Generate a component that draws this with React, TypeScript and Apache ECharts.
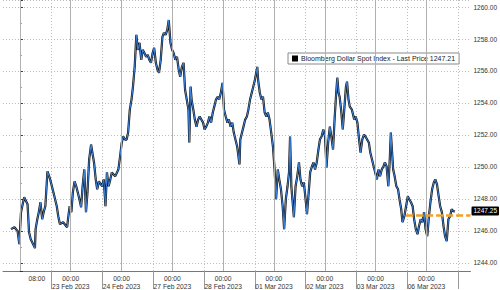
import React, { useEffect, useRef } from 'react';
import * as echarts from 'echarts';

// x = hours since 22 Feb 2023 00:00, counted over trading days only (weekend removed)
const feb22: [number, number][] = [
  [-4.2, 1246.11], [-2.6, 1246.23], [-1.1, 1245.98], [-0.3, 1245.17], [0.5, 1247.17], [2.0, 1248.10],
  [3.6, 1247.66], [4.3, 1245.92], [5.1, 1245.48], [7.1, 1244.92], [7.4, 1246.11], [8.2, 1246.73],
  [8.9, 1247.17], [9.7, 1247.79], [10.5, 1246.73], [11.2, 1247.17], [12.0, 1247.54], [13.0, 1249.72],
  [14.3, 1249.22], [15.8, 1248.41], [17.4, 1247.54], [18.1, 1246.92], [18.9, 1246.42], [20.4, 1246.54],
  [22.3, 1246.23], [22.7, 1246.73], [23.5, 1247.54],
];
const feb23: [number, number][] = [
  [24.3, 1247.17], [25.0, 1248.41], [25.8, 1249.10], [26.6, 1248.79], [27.3, 1248.41], [28.1, 1247.98],
  [28.9, 1247.48], [29.6, 1248.79], [30.4, 1249.84], [31.2, 1247.17], [31.9, 1248.41], [32.7, 1250.47],
  [33.6, 1251.40], [34.2, 1250.90], [35.0, 1250.28], [35.8, 1249.22], [36.5, 1248.60], [37.3, 1249.10],
  [38.8, 1248.79], [39.6, 1249.22], [40.4, 1247.54], [41.1, 1249.66], [41.9, 1248.79], [42.7, 1249.22],
  [43.4, 1249.66], [45.0, 1249.41], [46.5, 1249.84], [47.3, 1250.65],
];
const feb24: [number, number][] = [
  [48.1, 1251.53], [48.8, 1251.90], [49.6, 1251.71], [50.4, 1251.71], [51.1, 1252.15], [51.9, 1253.58],
  [52.7, 1254.21], [53.4, 1255.02], [54.2, 1256.26], [55.0, 1258.26], [55.7, 1257.32], [56.5, 1257.76],
  [57.3, 1256.70], [58.0, 1257.32], [58.8, 1257.13], [59.6, 1256.88], [60.4, 1257.01], [61.1, 1256.70],
  [61.9, 1256.51], [62.7, 1257.13], [63.4, 1257.45], [64.2, 1256.51], [65.0, 1256.07], [65.7, 1255.89],
  [66.5, 1256.70], [67.3, 1258.13], [68.0, 1258.38], [68.8, 1258.26], [69.6, 1258.57], [70.3, 1259.19],
  [71.1, 1257.76], [71.9, 1257.32],
];
const feb27: [number, number][] = [
  [72.6, 1257.13], [73.4, 1256.70], [74.2, 1256.88], [75.0, 1256.07], [75.7, 1255.64], [76.5, 1256.26],
  [77.3, 1256.51], [78.0, 1254.83], [78.8, 1254.21], [79.6, 1253.58], [80.0, 1251.53], [80.6, 1255.02],
  [81.1, 1254.21], [81.9, 1253.58], [82.6, 1252.96], [83.4, 1252.52], [84.2, 1252.96], [84.9, 1253.15],
  [86.5, 1252.77], [87.2, 1252.34], [88.0, 1252.52], [88.8, 1252.77], [89.5, 1253.15], [90.3, 1252.77],
  [91.1, 1253.40], [91.8, 1253.77], [92.6, 1254.21], [93.4, 1254.39], [94.1, 1254.21], [94.9, 1254.64],
  [95.7, 1255.26],
];
const feb28: [number, number][] = [
  [96.4, 1253.58], [97.2, 1253.15], [98.0, 1252.77], [98.7, 1252.96], [99.5, 1252.52], [100.3, 1252.77],
  [101.0, 1252.15], [101.8, 1251.71], [102.6, 1251.28], [103.7, 1250.16], [104.1, 1251.71], [104.9, 1252.15],
  [105.6, 1252.52], [106.4, 1252.96], [107.2, 1253.15], [107.9, 1253.58], [108.7, 1254.21], [109.5, 1254.64],
  [110.2, 1255.02], [111.0, 1255.45], [112.1, 1256.26], [112.5, 1255.45], [113.3, 1254.64], [114.1, 1254.21],
  [114.8, 1254.39], [115.6, 1253.40], [116.4, 1253.15], [117.1, 1253.40], [117.9, 1252.96], [118.7, 1252.15],
  [119.5, 1251.28],
];
const mar01: [number, number][] = [
  [120.2, 1250.03], [121.0, 1247.98], [121.8, 1249.84], [122.5, 1249.22], [123.3, 1248.60], [124.1, 1247.54],
  [124.8, 1246.11], [125.6, 1247.98], [126.4, 1248.79], [127.1, 1249.66], [127.6, 1251.90], [128.2, 1248.79],
  [129.4, 1246.85], [130.2, 1248.79], [131.0, 1249.41], [131.8, 1250.28], [132.5, 1249.22], [133.3, 1248.79],
  [134.1, 1249.03], [134.8, 1248.16], [135.6, 1247.04], [136.4, 1248.41], [137.1, 1249.66], [137.9, 1250.03],
  [138.7, 1250.28], [139.4, 1249.84], [140.2, 1250.28], [141.0, 1251.09], [141.7, 1251.71], [142.5, 1251.90],
  [143.3, 1252.34],
];
const mar02: [number, number][] = [
  [144.1, 1251.90], [144.8, 1249.97], [145.6, 1251.53], [146.4, 1252.52], [147.1, 1251.90], [147.9, 1251.09],
  [148.7, 1253.15], [149.4, 1254.64], [149.9, 1255.58], [150.5, 1254.64], [151.0, 1254.39], [151.7, 1253.58],
  [152.5, 1252.34], [153.3, 1253.77], [154.0, 1255.02], [154.5, 1255.33], [155.2, 1254.21], [155.8, 1253.77],
  [156.8, 1253.58], [157.9, 1252.96], [158.6, 1253.15], [159.4, 1252.77], [160.2, 1251.71], [160.9, 1250.90],
  [161.7, 1251.71], [162.5, 1252.02], [163.2, 1251.90], [164.0, 1251.71], [164.8, 1251.53], [165.5, 1250.90],
  [166.3, 1250.47], [167.1, 1250.03], [167.8, 1249.66],
];
const mar03: [number, number][] = [
  [168.6, 1249.22], [169.4, 1249.84], [170.1, 1249.41], [170.9, 1249.84], [171.7, 1250.03], [172.4, 1250.28],
  [173.2, 1250.03], [174.0, 1248.79], [174.7, 1250.47], [175.2, 1252.15], [175.8, 1250.90], [176.3, 1249.84],
  [177.0, 1249.41], [177.8, 1248.79], [178.6, 1248.60], [179.3, 1247.98], [180.1, 1247.35], [180.7, 1246.54],
  [181.6, 1246.92], [182.4, 1247.54], [183.2, 1248.16], [183.9, 1247.98], [184.7, 1247.79], [185.5, 1247.54],
  [186.2, 1246.73], [187.0, 1246.11], [187.8, 1245.79], [188.5, 1246.29], [189.3, 1246.73], [190.1, 1246.54],
  [190.9, 1247.17], [191.6, 1246.11],
];
const mar06: [number, number][] = [
  [192.4, 1245.67], [193.2, 1246.92], [193.9, 1247.79], [194.7, 1248.60], [195.5, 1249.03], [196.2, 1249.22],
  [197.0, 1248.91], [197.8, 1248.16], [198.5, 1247.54], [199.3, 1247.17], [200.1, 1246.29], [200.8, 1245.67],
  [201.6, 1245.36], [202.4, 1246.73], [203.2, 1246.92], [203.9, 1247.35], [204.7, 1247.23], [205.5, 1247.21],
];

const dayLabels = [
  '22 Feb 2023', '23 Feb 2023', '24 Feb 2023', '27 Feb 2023', '28 Feb 2023',
  '01 Mar 2023', '02 Mar 2023', '03 Mar 2023', '06 Mar 2023',
];
const firstTimeLabel = '08:00';
const seriesName = 'Bloomberg Dollar Spot Index';
const lastPrice = 1247.21;
const lastTag = 1247.25;
const trendLevel = 1247.0;
const trendStartHour = 182.4;
const separatorHour = 15;

const xMin = -8;
const xMax = 212.83;
const yMin = 1243.49;
const yMax = 1260.44;

const FONT = '"Liberation Sans", Arial, sans-serif';

export default function App() {
  const ref = useRef<HTMLDivElement>(null);
  useEffect(() => {
    if (!ref.current) return;
    const chart = echarts.init(ref.current, undefined, { renderer: 'svg' });
    const data = [...feb22, ...feb23, ...feb24, ...feb27, ...feb28, ...mar01, ...mar02, ...mar03, ...mar06];
    const dayStarts = dayLabels.map((_, i) => i * 24);
    const separators = dayLabels.map((_, i) => i * 24 + separatorHour);

    chart.setOption({
      animation: false,
      backgroundColor: '#ffffff',
      textStyle: { fontFamily: FONT },
      grid: { left: -8.37, right: 29, top: 0, bottom: 18, containLabel: false },
      legend: {
        data: [seriesName],
        left: 288,
        top: 53,
        padding: [2, 4, 2, 4],
        itemWidth: 6,
        itemHeight: 6,
        itemGap: 4,
        icon: 'rect',
        borderColor: '#8a8a8a',
        borderWidth: 1,
        backgroundColor: '#ffffff',
        textStyle: { fontSize: 7, color: '#222', fontFamily: FONT, padding: [0, 0, 0, -2] },
        formatter: (name: string) => `${name} - Last Price ${lastPrice.toFixed(2)}`,
      },
      xAxis: {
        type: 'value',
        min: xMin,
        max: xMax,
        interval: 8,
        axisLine: { show: true, lineStyle: { color: '#777', width: 1 } },
        axisTick: {
          show: true,
          customValues: separators,
          length: 18,
          lineStyle: { color: '#999' },
        },
        axisLabel: {
          show: true,
          fontSize: 6.7,
          color: '#333',
          lineHeight: 8,
          margin: 3,
          fontFamily: FONT,
          formatter: (v: number) => {
            if (Math.abs(v - 8) < 1e-6) return firstTimeLabel;
            if (v > 0 && Math.abs(v % 24) < 1e-6) {
              const lbl = dayLabels[Math.round(v / 24)];
              return lbl ? `00:00\n${lbl}` : '';
            }
            return '';
          },
        },
        splitLine: { show: true, lineStyle: { color: '#bdbdbd', type: [1, 2], width: 1 } },
      },
      yAxis: {
        type: 'value',
        position: 'right',
        min: yMin,
        max: yMax,
        splitNumber: 8,
        axisLine: { show: true, lineStyle: { color: '#777', width: 1 } },
        axisTick: { show: true, length: 3, lineStyle: { color: '#333' } },
        minorTick: { show: true, splitNumber: 2, length: 2, lineStyle: { color: '#999' } },
        axisLabel: {
          show: true,
          fontSize: 6.5,
          color: '#333',
          margin: 3,
          fontFamily: FONT,
          showMinLabel: false,
          showMaxLabel: false,
          formatter: (v: number) => v.toFixed(2),
        },
        splitLine: { show: true, lineStyle: { color: '#bdbdbd', type: [1, 2], width: 1 } },
      },
      series: [
        {
          type: 'line',
          name: 'daylines',
          data: [],
          z: 1,
          silent: true,
          markLine: {
            silent: true,
            symbol: 'none',
            label: { show: false },
            lineStyle: { color: '#b0b0b0', type: 'solid', width: 1 },
            data: dayStarts.map((h) => ({ xAxis: h })),
          },
        },
        {
          type: 'line',
          name: seriesName,
          data,
          showSymbol: false,
          symbol: 'none',
          z: 3,
          itemStyle: { color: '#000' },
          lineStyle: { color: '#111', width: 2.2 },
          markLine: {
            silent: true,
            symbol: 'none',
            data: [
              [
                {
                  coord: [trendStartHour, trendLevel],
                  lineStyle: { color: '#f0a028', width: 2.5, type: [7, 3] },
                  label: { show: false },
                },
                { coord: [xMax, trendLevel] },
              ],
            ],
          },
        },
        {
          type: 'line',
          name: 'overlay',
          data,
          showSymbol: false,
          symbol: 'none',
          z: 4,
          silent: true,
          lineStyle: { color: '#3f86e0', width: 1 },
          markLine: {
            silent: true,
            symbol: 'none',
            data: [
              {
                yAxis: lastTag,
                lineStyle: { color: 'rgba(0,0,0,0)', width: 1 },
                label: {
                  show: true,
                  position: 'end',
                  distance: 1,
                  formatter: lastTag.toFixed(2),
                  backgroundColor: '#000',
                  color: '#fff',
                  fontSize: 6.5,
                  fontFamily: FONT,
                  padding: [1, 2, 1, 2],
                  borderRadius: 1,
                },
              },
            ],
          },
        },
      ],
    });
    return () => chart.dispose();
  }, []);
  return <div ref={ref} style={{ position: 'fixed', left: 0, top: 0, width: 500, height: 290 }} />;
}
